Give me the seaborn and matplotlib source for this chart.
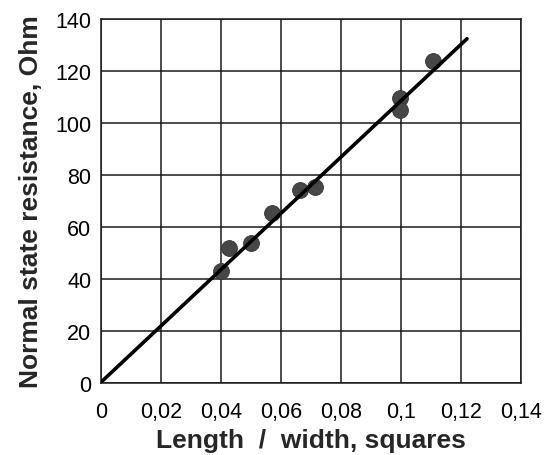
import matplotlib
matplotlib.use("Agg")
import matplotlib.pyplot as plt
import seaborn as sns
import numpy as np
import pandas as pd
from matplotlib.ticker import FuncFormatter

# Data
ratio = [0.040, 0.0428, 0.050, 0.0569, 0.0663, 0.0713, 0.0998, 0.0998, 0.1108]
resistance = [43.2, 51.8, 53.8, 65.3, 74.1, 75.5, 109.6, 105.1, 124.0]
fit_x = [0.0, 0.122]
fit_y = [0.3, 132.4]
x_ticks = [0, 0.02, 0.04, 0.06, 0.08, 0.1, 0.12, 0.14]
y_ticks = [0, 20, 40, 60, 80, 100, 120, 140]

sns.set_theme(style="white")
plt.rcParams['font.family'] = ['Liberation Sans', 'DejaVu Sans']

fig = plt.figure(figsize=(5.45, 4.56), dpi=100)
ax = fig.add_axes([101/545, 1-384/456, (521-101)/545, (384-20)/456])

pts = pd.DataFrame({"x": ratio, "y": resistance})
fit = pd.DataFrame({"x": fit_x, "y": fit_y})

sns.scatterplot(data=pts, x="x", y="y", ax=ax, s=130, color="#474747",
                edgecolor="#333333", linewidth=0.6, zorder=3)
sns.lineplot(data=fit, x="x", y="y", ax=ax, color="black", linewidth=2.6, zorder=4)

ax.set_xlim(0, 0.14)
ax.set_ylim(0, 140)
ax.set_xticks(x_ticks)
ax.set_yticks(y_ticks)
ax.xaxis.set_major_formatter(FuncFormatter(lambda v, p: f"{v:g}".replace('.', ',')))
ax.grid(True, color="#1a1a1a", linewidth=1.1)
ax.set_axisbelow(True)
for s in ax.spines.values():
    s.set_visible(True)
    s.set_color("#1a1a1a")
    s.set_linewidth(1.1)
ax.tick_params(axis='both', length=0, labelsize=15.5, colors='black')
ax.tick_params(axis='x', pad=13)
ax.tick_params(axis='y', pad=7)
ax.set_xlabel("Length  /  width, squares", fontsize=19, fontweight='bold', labelpad=4)
ax.set_ylabel("Normal state resistance, Ohm", fontsize=19, fontweight='bold', labelpad=9)

fig.savefig("out.png", dpi=100)
